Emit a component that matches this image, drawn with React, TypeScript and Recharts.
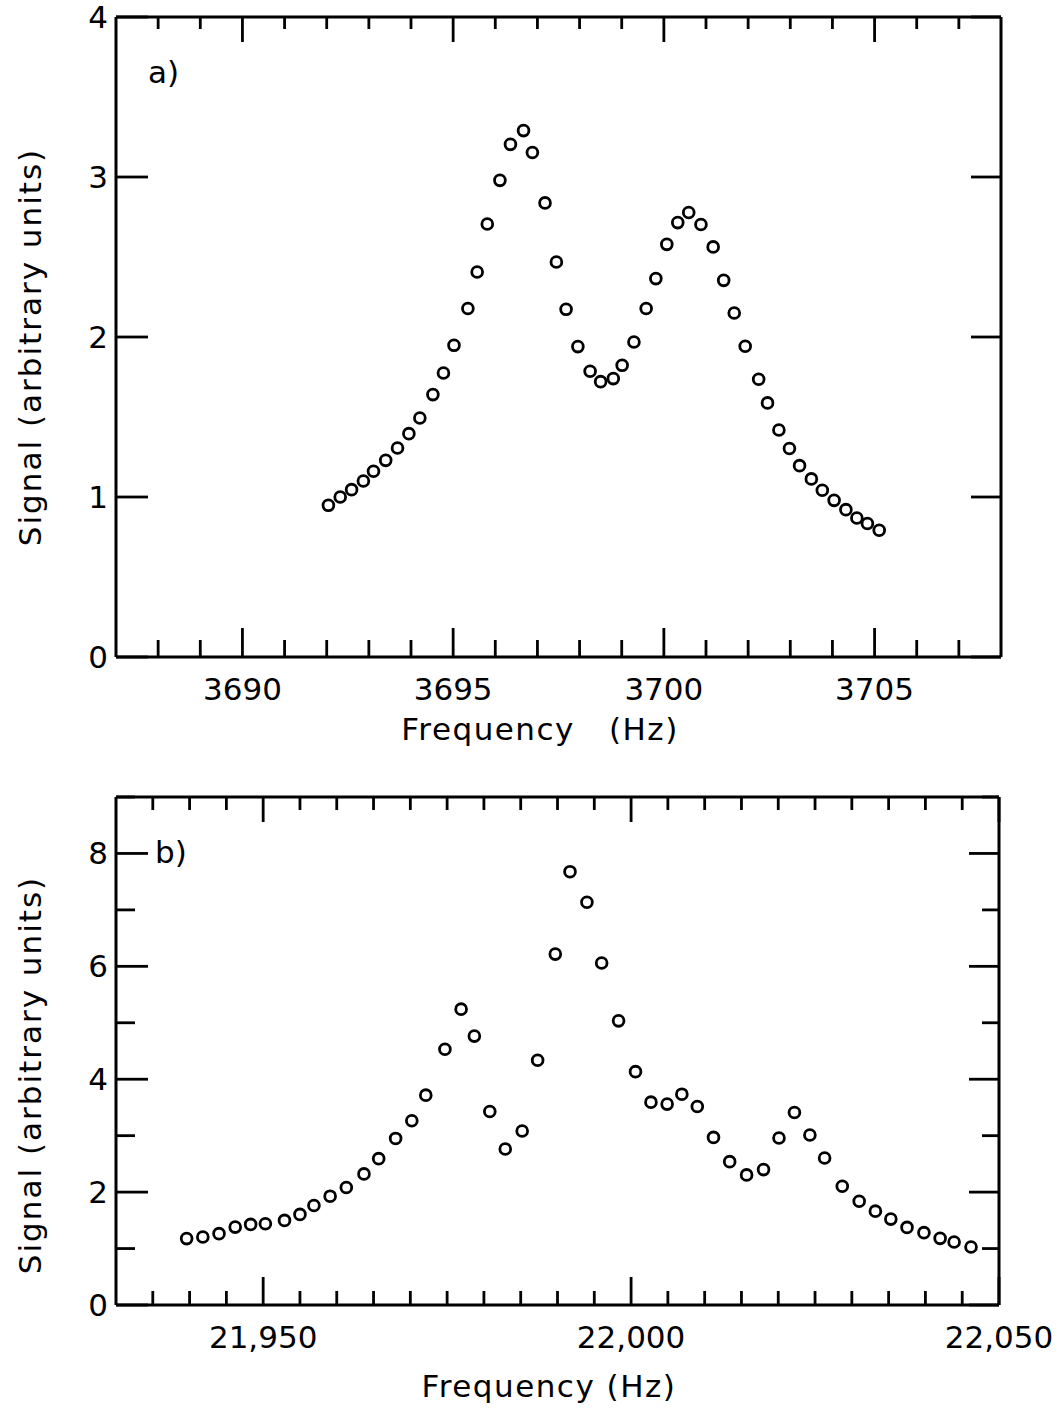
import React from 'react';
import { ScatterChart, Scatter, XAxis, YAxis } from 'recharts';

// Panel a) data
const freqA = [3692.04, 3692.32, 3692.59, 3692.87, 3693.11, 3693.40, 3693.68, 3693.95, 3694.21, 3694.52,
  3694.77, 3695.02, 3695.35, 3695.57, 3695.81, 3696.11, 3696.36, 3696.67, 3696.88, 3697.18,
  3697.45, 3697.68, 3697.96, 3698.25, 3698.50, 3698.80, 3699.01, 3699.29, 3699.58, 3699.81,
  3700.07, 3700.33, 3700.59, 3700.88, 3701.17, 3701.42, 3701.67, 3701.93, 3702.25, 3702.46,
  3702.73, 3702.98, 3703.22, 3703.50, 3703.76, 3704.04, 3704.32, 3704.58, 3704.83, 3705.11];
const signalA = [0.948, 1.000, 1.046, 1.100, 1.161, 1.229, 1.306, 1.396, 1.494, 1.640,
  1.775, 1.948, 2.178, 2.406, 2.706, 2.979, 3.204, 3.290, 3.153, 2.838,
  2.469, 2.173, 1.940, 1.786, 1.721, 1.740, 1.823, 1.969, 2.178, 2.365,
  2.579, 2.715, 2.778, 2.703, 2.563, 2.354, 2.150, 1.942, 1.736, 1.588,
  1.419, 1.303, 1.196, 1.113, 1.042, 0.979, 0.921, 0.869, 0.834, 0.792];

// Panel b) data
const freqB = [21939.6, 21941.8, 21944.0, 21946.2, 21948.3, 21950.3, 21952.9, 21955.0, 21956.9, 21959.1,
  21961.3, 21963.7, 21965.7, 21968.0, 21970.2, 21972.1, 21974.7, 21976.9, 21978.7, 21980.8,
  21982.9, 21985.2, 21987.3, 21989.7, 21991.7, 21994.0, 21996.0, 21998.3, 22000.6, 22002.7,
  22004.9, 22006.9, 22009.0, 22011.2, 22013.4, 22015.7, 22018.0, 22020.1, 22022.2, 22024.3,
  22026.3, 22028.7, 22031.0, 22033.2, 22035.3, 22037.5, 22039.8, 22042.0, 22043.9, 22046.2];
const signalB = [1.176, 1.204, 1.264, 1.380, 1.428, 1.440, 1.499, 1.605, 1.763, 1.928,
  2.081, 2.323, 2.593, 2.951, 3.264, 3.718, 4.530, 5.241, 4.764, 3.428,
  2.764, 3.082, 4.335, 6.217, 7.677, 7.135, 6.058, 5.034, 4.134, 3.594,
  3.559, 3.735, 3.516, 2.969, 2.540, 2.305, 2.399, 2.958, 3.410, 3.011,
  2.605, 2.104, 1.839, 1.663, 1.522, 1.375, 1.282, 1.181, 1.116, 1.027];

// Ticks
const domainAx: [number, number] = [3687, 3708];
const ticksAx = [3688, 3689, 3690, 3691, 3692, 3693, 3694, 3695, 3696, 3697, 3698, 3699, 3700, 3701, 3702, 3703, 3704, 3705, 3706, 3707];
const majorAx = [3690, 3695, 3700, 3705];
const labelsAx = [3690, 3695, 3700, 3705];
const domainAy: [number, number] = [0, 4];
const ticksAy = [0, 1, 2, 3, 4];
const labelsAy = [0, 1, 2, 3, 4];

const domainBx: [number, number] = [21930, 22050];
const ticksBx = [21935, 21940, 21945, 21950, 21955, 21960, 21965, 21970, 21975, 21980, 21985, 21990, 21995, 22000,
  22005, 22010, 22015, 22020, 22025, 22030, 22035, 22040, 22045, 22050];
const majorBx = [21950, 22000, 22050];
const labelsBx = [21950, 22000, 22050];
const domainBy: [number, number] = [0, 9];
const ticksBy = [0, 1, 2, 3, 4, 5, 6, 7, 8, 9];
const majorBy = [0, 2, 4, 6, 8];
const labelsBy = [0, 2, 4, 6, 8];

const FONT = '"DejaVu Sans", sans-serif';
const INK = '#000';
const TW = 2.8;

type Side = 'bottom' | 'top' | 'left' | 'right';

function makeTick(side: Side, majors: number[], labels: number[], majorLen: number, minorLen: number, fmt: (v: number) => string) {
  return (props: any) => {
    const { x, y, payload } = props;
    const v = payload.value;
    const len = majors.includes(v) ? majorLen : minorLen;
    let line: any = null;
    if (side === 'bottom') line = <line x1={x} x2={x} y1={y} y2={y - len} stroke={INK} strokeWidth={TW} />;
    if (side === 'top') line = <line x1={x} x2={x} y1={y} y2={y + len} stroke={INK} strokeWidth={TW} />;
    if (side === 'left') line = <line x1={x} x2={x + len} y1={y} y2={y} stroke={INK} strokeWidth={TW} />;
    if (side === 'right') line = <line x1={x} x2={x - len} y1={y} y2={y} stroke={INK} strokeWidth={TW} />;
    let label: any = null;
    if (labels.includes(v)) {
      if (side === 'bottom') {
        label = <text x={x} y={y + 43} textAnchor="middle" fontFamily={FONT} fontSize={31} fill={INK}>{fmt(v)}</text>;
      } else if (side === 'left') {
        label = <text x={x - 8} y={y + 11} textAnchor="end" fontFamily={FONT} fontSize={31} fill={INK}>{fmt(v)}</text>;
      }
    }
    return <g>{line}{label}</g>;
  };
}

const circleShape = (p: any) => (
  <circle cx={p.cx} cy={p.cy} r={5.4} fill="none" stroke={INK} strokeWidth={2.8} />
);

const fmtPlain = (v: number) => String(v);
const fmtComma = (v: number) => v.toLocaleString('en-US');

const axisLine = { stroke: INK, strokeWidth: 3 };

function Panel(props: {
  freq: number[]; sig: number[]; dx: [number, number]; dy: [number, number];
  tx: number[]; mx: number[]; lx: number[]; ty: number[]; my: number[]; ly: number[];
  fmtX: (v: number) => string; width: number; height: number;
  margin: { top: number; left: number; right: number; bottom: number };
  lens: { bMaj: number; bMin: number; tMaj: number; tMin: number; lMaj: number; lMin: number; rMaj: number; rMin: number };
}) {
  const data = props.freq.map((f, i) => ({ x: f, y: props.sig[i] }));
  const L = props.lens;
  return (
    <ScatterChart width={props.width} height={props.height} margin={props.margin} style={{ overflow: 'visible' }}>
      <XAxis xAxisId="b" dataKey="x" type="number" orientation="bottom" domain={props.dx} allowDataOverflow
        ticks={props.tx} interval={0} height={1} tickSize={0} tickMargin={0} tickLine={false} axisLine={axisLine}
        tick={makeTick('bottom', props.mx, props.lx, L.bMaj, L.bMin, props.fmtX)} />
      <XAxis xAxisId="t" dataKey="x" type="number" orientation="top" domain={props.dx} allowDataOverflow
        ticks={props.tx} interval={0} height={1} tickSize={0} tickMargin={0} tickLine={false} axisLine={axisLine}
        tick={makeTick('top', props.mx, [], L.tMaj, L.tMin, props.fmtX)} />
      <YAxis yAxisId="l" dataKey="y" type="number" orientation="left" domain={props.dy} allowDataOverflow
        ticks={props.ty} interval={0} width={1} tickSize={0} tickMargin={0} tickLine={false} axisLine={axisLine}
        tick={makeTick('left', props.my, props.ly, L.lMaj, L.lMin, fmtPlain)} />
      <YAxis yAxisId="r" dataKey="y" type="number" orientation="right" domain={props.dy} allowDataOverflow
        ticks={props.ty} interval={0} width={1} tickSize={0} tickMargin={0} tickLine={false} axisLine={axisLine}
        tick={makeTick('right', props.my, [], L.rMaj, L.rMin, fmtPlain)} />
      <Scatter xAxisId="b" yAxisId="l" data={data} shape={circleShape} isAnimationActive={false} />
      <Scatter xAxisId="t" yAxisId="r" data={[]} isAnimationActive={false} />
    </ScatterChart>
  );
}

const textStyle: React.CSSProperties = {
  position: 'absolute', fontFamily: FONT, color: INK, whiteSpace: 'pre', lineHeight: 1,
};

export default function App() {
  return (
    <div style={{ position: 'absolute', left: 0, top: 0, width: 1059, height: 1408, background: '#fff' }}>
      <div style={{ position: 'absolute', left: 0, top: 0 }}>
        <Panel freq={freqA} sig={signalA} dx={domainAx} dy={domainAy}
          tx={ticksAx} mx={majorAx} lx={labelsAx} ty={ticksAy} my={ticksAy} ly={labelsAy}
          fmtX={fmtPlain} width={1059} height={770}
          margin={{ top: 16, left: 115, right: 57, bottom: 112 }}
          lens={{ bMaj: 29, bMin: 17, tMaj: 25, tMin: 12, lMaj: 32, lMin: 32, rMaj: 30, rMin: 30 }} />
      </div>
      <div style={{ position: 'absolute', left: 0, top: 770 }}>
        <Panel freq={freqB} sig={signalB} dx={domainBx} dy={domainBy}
          tx={ticksBx} mx={majorBx} lx={labelsBx} ty={ticksBy} my={majorBy} ly={labelsBy}
          fmtX={fmtComma} width={1059} height={638}
          margin={{ top: 26, left: 115, right: 59, bottom: 102 }}
          lens={{ bMaj: 28, bMin: 14, tMaj: 25, tMin: 13, lMaj: 32, lMin: 19, rMaj: 30, rMin: 17 }} />
      </div>

      <div style={{ ...textStyle, left: 148, top: 57, fontSize: 31 }}>a)</div>
      <div style={{ ...textStyle, left: 155, top: 837, fontSize: 31 }}>b)</div>

      <div style={{ ...textStyle, left: 540, top: 729, fontSize: 31, letterSpacing: 1.5, transform: 'translate(-50%,-50%)' }}>{'Frequency   (Hz)'}</div>
      <div style={{ ...textStyle, left: 549, top: 1386, fontSize: 31, letterSpacing: 1.5, transform: 'translate(-50%,-50%)' }}>{'Frequency (Hz)'}</div>

      <div style={{ ...textStyle, left: 30, top: 347, fontSize: 31, letterSpacing: 2, transform: 'translate(-50%,-50%) rotate(-90deg)' }}>Signal (arbitrary units)</div>
      <div style={{ ...textStyle, left: 30, top: 1075, fontSize: 31, letterSpacing: 2, transform: 'translate(-50%,-50%) rotate(-90deg)' }}>Signal (arbitrary units)</div>
    </div>
  );
}
